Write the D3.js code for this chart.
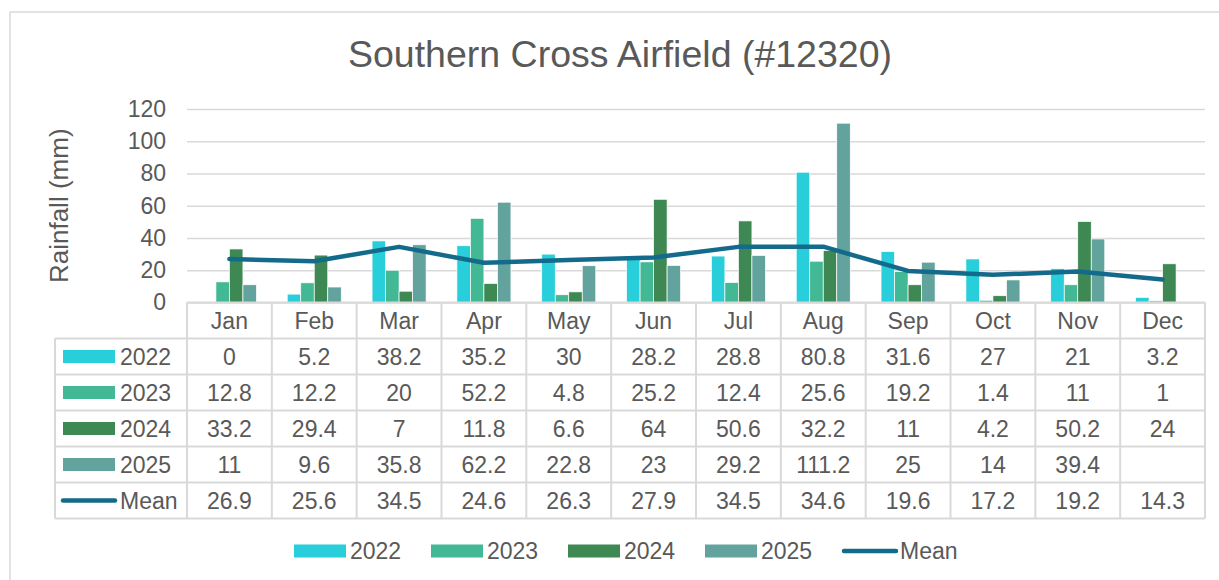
<!DOCTYPE html>
<html lang="en">
<head>
<meta charset="utf-8">
<title>Southern Cross Airfield (#12320)</title>
<style>
  body { margin:0; background:white; }
  svg { font-family: "Liberation Sans", Arial, sans-serif; }
  text { fill:#595959; }
</style>
</head>
<body>
<div id="chart"></div>
<script src="https://cdnjs.cloudflare.com/ajax/libs/d3/7.8.5/d3.min.js"></script>
<script>
// data
var months = ["Jan","Feb","Mar","Apr","May","Jun","Jul","Aug","Sep","Oct","Nov","Dec"];
var years = ["2022","2023","2024","2025"];
var rain2022 = [0, 5.2, 38.2, 35.2, 30, 28.2, 28.8, 80.8, 31.6, 27, 21, 3.2];
var rain2023 = [12.8, 12.2, 20, 52.2, 4.8, 25.2, 12.4, 25.6, 19.2, 1.4, 11, 1];
var rain2024 = [33.2, 29.4, 7, 11.8, 6.6, 64, 50.6, 32.2, 11, 4.2, 50.2, 24];
var rain2025 = [11, 9.6, 35.8, 62.2, 22.8, 23, 29.2, 111.2, 25, 14, 39.4, null];
var meanRain = [26.9, 25.6, 34.5, 24.6, 26.3, 27.9, 34.5, 34.6, 19.6, 17.2, 19.2, 14.3];
var yTicks = [0, 20, 40, 60, 80, 100, 120];

var series = [rain2022, rain2023, rain2024, rain2025];
var colors = ["#28CED9", "#43B894", "#3D8853", "#63A39E"];
var meanColor = "#146A8A";
var gridColor = "#D9D9D9";
var fs = "23px";

var W = 1219, H = 580;
var plot = {left:187, right:1205, top:109, bottom:302.5};
var rowH = 36;

var svg = d3.select("#chart").append("svg")
    .attr("width", W).attr("height", H);

// chart frame
svg.append("rect")
    .attr("x", 10).attr("y", 12)
    .attr("width", W).attr("height", H)
    .attr("fill", "white")
    .attr("stroke", gridColor).attr("stroke-width", 1.5);

// title
svg.append("text")
    .attr("x", 620).attr("y", 67)
    .attr("text-anchor", "middle")
    .style("font-size", "37.5px")
    .text("Southern Cross Airfield (#12320)");

var x = d3.scaleBand().domain(months).range([plot.left, plot.right]);
var bw = x.bandwidth();
var off = (bw - bw * 0.637) / 2;
var x1 = d3.scaleBand().domain(years).range([off, bw - off]);
var y = d3.scaleLinear().domain([0, 120]).range([plot.bottom, plot.top]);

// gridlines + y tick labels
var yAxis = svg.append("g")
    .attr("transform", "translate(" + plot.left + ",0)")
    .call(d3.axisLeft(y).tickValues(yTicks).tickSize(-(plot.right - plot.left)).tickPadding(21));
yAxis.select(".domain").remove();
yAxis.selectAll(".tick line").attr("stroke", gridColor).attr("stroke-width", 1.5);
yAxis.selectAll(".tick text")
    .attr("fill", "#595959")
    .style("font-size", fs)
    .style("font-family", "'Liberation Sans', Arial, sans-serif");

// y axis title
svg.append("text")
    .attr("transform", "translate(68," + ((plot.top + plot.bottom) / 2) + ") rotate(-90)")
    .attr("text-anchor", "middle")
    .style("font-size", "26px")
    .text("Rainfall (mm)");

// bars
series.forEach(function(vals, si) {
  svg.append("g").selectAll("rect")
    .data(vals.map(function(v, i) { return {m: months[i], v: v}; }).filter(function(d) { return d.v != null; }))
    .enter().append("rect")
      .attr("x", function(d) { return x(d.m) + x1(years[si]); })
      .attr("y", function(d) { return y(d.v); })
      .attr("width", x1.bandwidth())
      .attr("height", function(d) { return y(0) - y(d.v); })
      .attr("fill", colors[si])
      .attr("stroke", "white").attr("stroke-width", 0.7);
});

// mean line
var line = d3.line()
    .x(function(d, i) { return x(months[i]) + bw / 2; })
    .y(function(d) { return y(d); });
svg.append("path")
    .datum(meanRain)
    .attr("d", line)
    .attr("fill", "none")
    .attr("stroke", meanColor)
    .attr("stroke-width", 4.5)
    .attr("stroke-linecap", "round")
    .attr("stroke-linejoin", "round");

// data table
var table = svg.append("g");
var tTop = plot.bottom;           // header row (month names)
var rowsTop = tTop + rowH;        // first data row
var tableLeft = 55;
var rows = [
  {label: "2022", vals: rain2022, color: colors[0], kind: "bar"},
  {label: "2023", vals: rain2023, color: colors[1], kind: "bar"},
  {label: "2024", vals: rain2024, color: colors[2], kind: "bar"},
  {label: "2025", vals: rain2025, color: colors[3], kind: "bar"},
  {label: "Mean", vals: meanRain, color: meanColor, kind: "line"}
];
var tableBottom = rowsTop + rows.length * rowH;

// horizontal lines
table.append("line")
    .attr("x1", plot.left).attr("x2", plot.right)
    .attr("y1", tTop).attr("y2", tTop);
d3.range(rows.length + 1).forEach(function(r) {
  table.append("line")
      .attr("x1", tableLeft).attr("x2", plot.right)
      .attr("y1", rowsTop + r * rowH).attr("y2", rowsTop + r * rowH);
});
// vertical lines
table.append("line")
    .attr("x1", tableLeft).attr("x2", tableLeft)
    .attr("y1", rowsTop).attr("y2", tableBottom);
months.concat(["end"]).forEach(function(m, i) {
  var xx = i < months.length ? x(m) : plot.right;
  table.append("line")
      .attr("x1", xx).attr("x2", xx)
      .attr("y1", tTop).attr("y2", tableBottom);
});
table.selectAll("line").attr("stroke", gridColor).attr("stroke-width", 2);

// month names
table.selectAll("text.month")
    .data(months)
  .enter().append("text")
    .attr("class", "month")
    .attr("x", function(d) { return x(d) + bw / 2; })
    .attr("y", tTop + rowH / 2)
    .attr("dy", "0.36em")
    .attr("text-anchor", "middle")
    .style("font-size", fs)
    .text(function(d) { return d; });

rows.forEach(function(row, r) {
  var cy = rowsTop + r * rowH + rowH / 2;
  if (row.kind === "bar") {
    table.append("rect")
        .attr("x", 63).attr("y", cy - 6.5)
        .attr("width", 52).attr("height", 13)
        .attr("fill", row.color);
  } else {
    table.append("line")
        .attr("x1", 63).attr("x2", 115)
        .attr("y1", cy).attr("y2", cy)
        .attr("stroke", row.color).attr("stroke-width", 4.5)
        .attr("stroke-linecap", "round");
  }
  table.append("text")
      .attr("x", 120).attr("y", cy).attr("dy", "0.36em")
      .style("font-size", fs)
      .text(row.label);
  row.vals.forEach(function(v, i) {
    if (v == null) return;
    table.append("text")
        .attr("x", x(months[i]) + bw / 2)
        .attr("y", cy).attr("dy", "0.36em")
        .attr("text-anchor", "middle")
        .style("font-size", fs)
        .text(v);
  });
});

// legend
var legend = svg.append("g").attr("transform", "translate(294,551)");
rows.forEach(function(row, i) {
  var g = legend.append("g").attr("transform", "translate(" + (i * 137) + ",0)");
  if (row.kind === "bar") {
    g.append("rect")
        .attr("x", 0).attr("y", -6.5)
        .attr("width", 52).attr("height", 13)
        .attr("fill", row.color);
  } else {
    g.append("line")
        .attr("x1", 2).attr("x2", 54)
        .attr("y1", 0).attr("y2", 0)
        .attr("stroke", row.color).attr("stroke-width", 4.5)
        .attr("stroke-linecap", "round");
  }
  g.append("text")
      .attr("x", row.kind === "bar" ? 56 : 58)
      .attr("dy", "0.36em")
      .style("font-size", fs)
      .text(row.label);
});
</script>
</body>
</html>
